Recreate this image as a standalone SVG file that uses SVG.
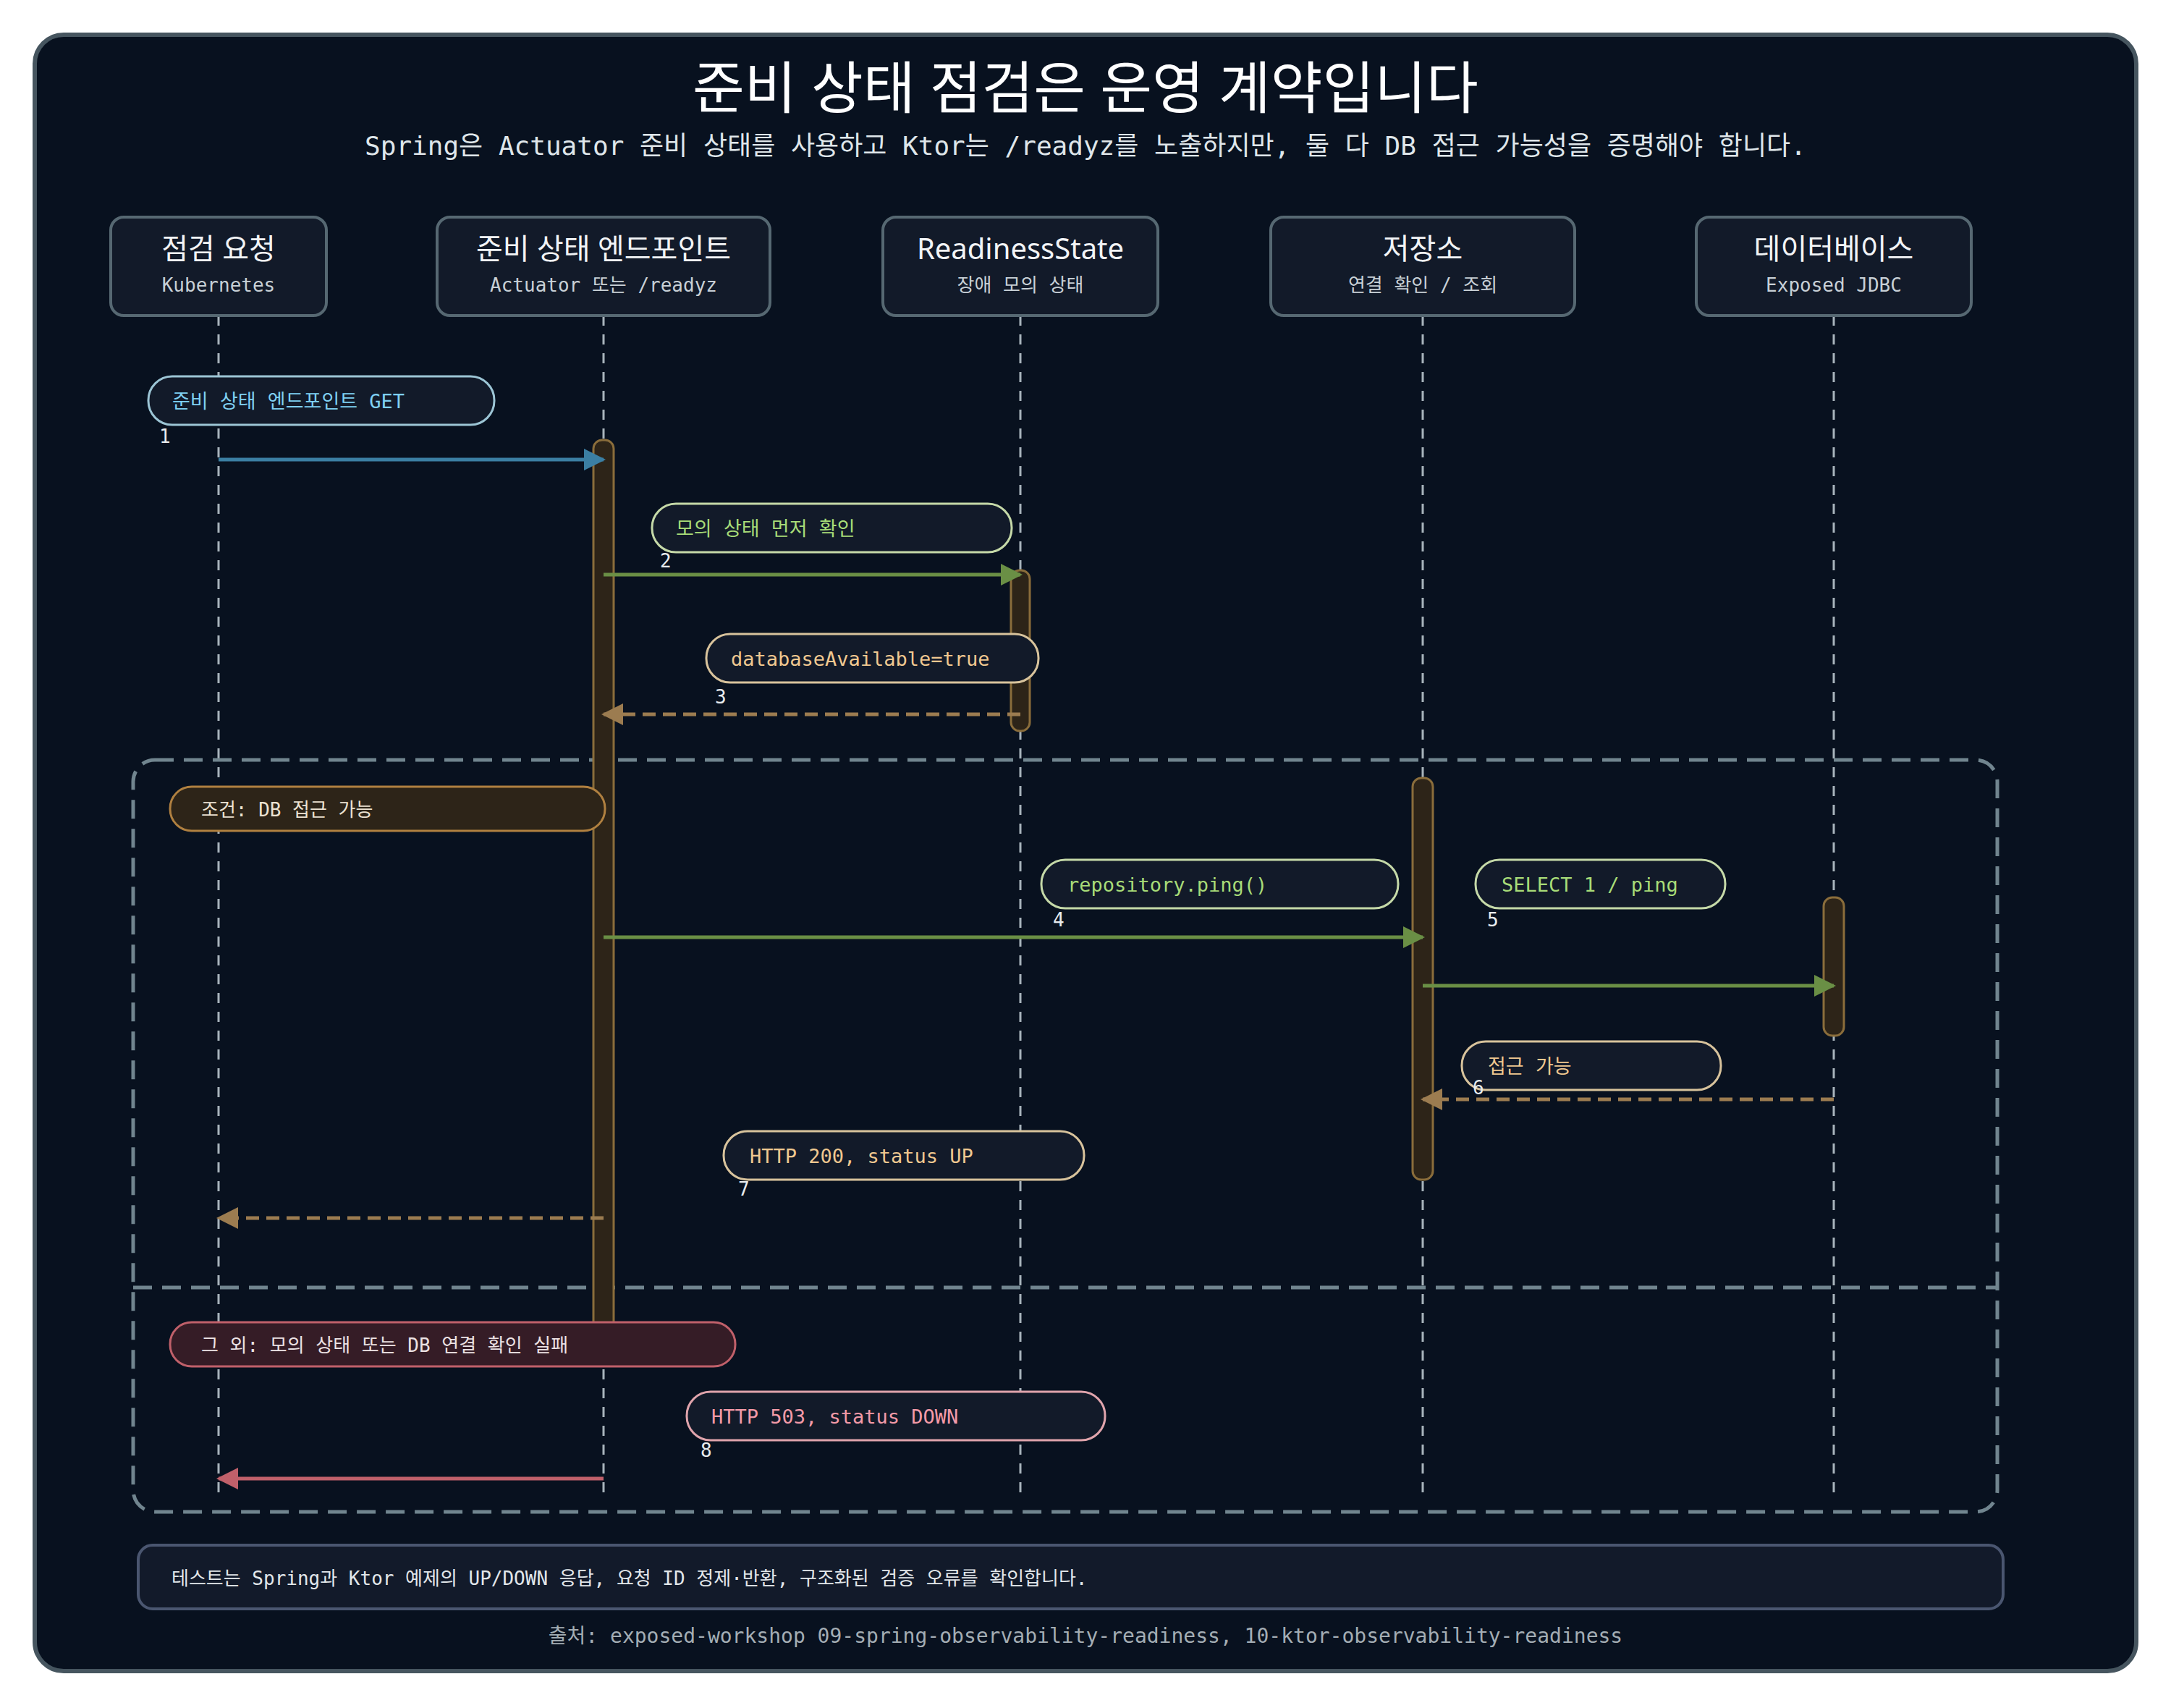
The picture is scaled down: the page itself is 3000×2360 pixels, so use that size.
<svg xmlns="http://www.w3.org/2000/svg" width="3000" height="2360" viewBox="0 0 3000 2360">
<style>
.mono{font-family:"DejaVu Sans Mono","Liberation Mono","Noto Sans CJK KR",monospace}
.sans{font-family:"Noto Sans","Noto Sans CJK KR",sans-serif}
.node rect{fill:#121a29;stroke:#566872;stroke-width:4}
.nt{fill:#f2f4f6;font-size:40px;text-anchor:middle}
.ns{fill:#c8d0d6;font-size:26px;text-anchor:middle}
.life{stroke:#a8b4bc;stroke-width:3;stroke-dasharray:14 12;fill:none}
.act{fill:#2d2418;stroke:#8a6d3b;stroke-width:3}
.pill{fill:#121a29;stroke-width:3}
.pt{font-size:27px}
.num{fill:#e8ecef;font-size:26px}
.msg{stroke-width:5;fill:none}
.dash{stroke-dasharray:18 10}
</style>
<defs>
<marker id="ab" viewBox="0 0 10 10" refX="9" refY="5" markerWidth="6" markerHeight="6" orient="auto-start-reverse" markerUnits="strokeWidth"><path d="M0,0 L10,5 L0,10 z" fill="#3b7fa3"/></marker>
<marker id="ag" viewBox="0 0 10 10" refX="9" refY="5" markerWidth="6" markerHeight="6" orient="auto-start-reverse" markerUnits="strokeWidth"><path d="M0,0 L10,5 L0,10 z" fill="#6a8f45"/></marker>
<marker id="at" viewBox="0 0 10 10" refX="9" refY="5" markerWidth="6" markerHeight="6" orient="auto-start-reverse" markerUnits="strokeWidth"><path d="M0,0 L10,5 L0,10 z" fill="#9c7c50"/></marker>
<marker id="ar" viewBox="0 0 10 10" refX="9" refY="5" markerWidth="6" markerHeight="6" orient="auto-start-reverse" markerUnits="strokeWidth"><path d="M0,0 L10,5 L0,10 z" fill="#c0606a"/></marker>
</defs>
<rect x="0" y="0" width="3000" height="2360" fill="#ffffff"/>
<rect x="48" y="48" width="2904" height="2261" rx="40" fill="#08111f" stroke="#46555f" stroke-width="6"/>
<text x="1500" y="150" class="sans" font-size="78" fill="#ffffff" text-anchor="middle">준비 상태 점검은 운영 계약입니다</text>
<text x="1500" y="214" class="mono" font-size="36" fill="#dfe6ea" text-anchor="middle">Spring은 Actuator 준비 상태를 사용하고 Ktor는 /readyz를 노출하지만, 둘 다 DB 접근 가능성을 증명해야 합니다.</text>

<g id="lifelines">
<line class="life" x1="302" y1="436" x2="302" y2="2070"/>
<line class="life" x1="834" y1="436" x2="834" y2="2070"/>
<line class="life" x1="1410" y1="436" x2="1410" y2="2070"/>
<line class="life" x1="1966" y1="436" x2="1966" y2="2070"/>
<line class="life" x1="2534" y1="436" x2="2534" y2="2070"/>
</g>

<g id="alt-frame" fill="none" stroke="#71858f" stroke-width="5" stroke-dasharray="26 14">
<rect x="184" y="1050" width="2576" height="1039" rx="30"/>
<line x1="184" y1="1779" x2="2760" y2="1779"/>
</g>

<g id="activations">
<rect class="act" x="820" y="608" width="28" height="1232" rx="12"/>
<rect class="act" x="1397" y="788" width="26" height="222" rx="12"/>
<rect class="act" x="1952" y="1075" width="28" height="555" rx="12"/>
<rect class="act" x="2520" y="1240" width="28" height="191" rx="12"/>
</g>

<g id="n1" class="node"><rect x="153" y="300" width="298" height="136" rx="18"/><text x="302" y="358" class="sans nt">점검 요청</text><text x="302" y="403" class="mono ns">Kubernetes</text></g>
<g id="n2" class="node"><rect x="604" y="300" width="460" height="136" rx="18"/><text x="834" y="358" class="sans nt">준비 상태 엔드포인트</text><text x="834" y="403" class="mono ns">Actuator 또는 /readyz</text></g>
<g id="n3" class="node"><rect x="1220" y="300" width="380" height="136" rx="18"/><text x="1410" y="358" class="sans nt">ReadinessState</text><text x="1410" y="403" class="mono ns">장애 모의 상태</text></g>
<g id="n4" class="node"><rect x="1756" y="300" width="420" height="136" rx="18"/><text x="1966" y="358" class="sans nt">저장소</text><text x="1966" y="403" class="mono ns">연결 확인 / 조회</text></g>
<g id="n5" class="node"><rect x="2344" y="300" width="380" height="136" rx="18"/><text x="2534" y="358" class="sans nt">데이터베이스</text><text x="2534" y="403" class="mono ns">Exposed JDBC</text></g>

<g id="connectors">
<line class="msg" stroke="#3b7fa3" x1="302" y1="635" x2="834" y2="635" marker-end="url(#ab)"/>
<line class="msg" stroke="#6a8f45" x1="834" y1="794" x2="1410" y2="794" marker-end="url(#ag)"/>
<line class="msg dash" stroke="#9c7c50" x1="1410" y1="987" x2="834" y2="987" marker-end="url(#at)"/>
<line class="msg" stroke="#6a8f45" x1="834" y1="1295" x2="1966" y2="1295" marker-end="url(#ag)"/>
<line class="msg" stroke="#6a8f45" x1="1966" y1="1362" x2="2534" y2="1362" marker-end="url(#ag)"/>
<line class="msg dash" stroke="#9c7c50" x1="2534" y1="1519" x2="1966" y2="1519" marker-end="url(#at)"/>
<line class="msg dash" stroke="#9c7c50" x1="834" y1="1683" x2="302" y2="1683" marker-end="url(#at)"/>
<line class="msg" stroke="#c0606a" x1="834" y1="2043" x2="302" y2="2043" marker-end="url(#ar)"/>
</g>

<g id="labels">
<rect class="pill" x="205" y="520" width="478" height="67" rx="33" stroke="#9cc5d5"/><text x="238" y="564" class="mono pt" fill="#7fd0f2">준비 상태 엔드포인트 GET</text><text x="220" y="612" class="mono num">1</text>
<rect class="pill" x="901" y="696" width="497" height="67" rx="33" stroke="#c5d9a8"/><text x="934" y="740" class="mono pt" fill="#a8dc78">모의 상태 먼저 확인</text><text x="912" y="784" class="mono num">2</text>
<rect class="pill" x="976" y="876" width="459" height="67" rx="33" stroke="#d8c39c"/><text x="1010" y="920" class="mono pt" fill="#f0c890">databaseAvailable=true</text><text x="988" y="972" class="mono num">3</text>
<rect x="235" y="1087" width="601" height="61" rx="30" fill="#2d2418" stroke="#b08040" stroke-width="3"/><text x="278" y="1128" class="mono" font-size="26" fill="#ece2d2">조건: DB 접근 가능</text>
<rect class="pill" x="1439" y="1188" width="493" height="67" rx="33" stroke="#c5d9a8"/><text x="1475" y="1232" class="mono pt" fill="#a8dc78">repository.ping()</text><text x="1455" y="1280" class="mono num">4</text>
<rect class="pill" x="2039" y="1188" width="345" height="67" rx="33" stroke="#c5d9a8"/><text x="2075" y="1232" class="mono pt" fill="#a8dc78">SELECT 1 / ping</text><text x="2055" y="1280" class="mono num">5</text>
<rect class="pill" x="2020" y="1439" width="358" height="67" rx="33" stroke="#d8c39c"/><text x="2056" y="1483" class="mono pt" fill="#f0c890">접근 가능</text><text x="2035" y="1512" class="mono num">6</text>
<rect class="pill" x="1000" y="1563" width="498" height="67" rx="33" stroke="#d8c39c"/><text x="1036" y="1607" class="mono pt" fill="#f0c890">HTTP 200, status UP</text><text x="1020" y="1652" class="mono num">7</text>
<rect x="235" y="1827" width="781" height="61" rx="30" fill="#351c26" stroke="#c0606a" stroke-width="3"/><text x="278" y="1868" class="mono" font-size="26" fill="#ece2e4">그 외: 모의 상태 또는 DB 연결 확인 실패</text>
<rect class="pill" x="949" y="1923" width="578" height="67" rx="33" stroke="#e0a4ac"/><text x="983" y="1967" class="mono pt" fill="#f49aa8">HTTP 503, status DOWN</text><text x="968" y="2013" class="mono num">8</text>
</g>

<g id="footer">
<rect x="191" y="2135" width="2577" height="88" rx="20" fill="#121a2a" stroke="#4a5670" stroke-width="4"/>
<text x="237" y="2190" class="mono" font-size="26" fill="#e2e7ea">테스트는 Spring과 Ktor 예제의 UP/DOWN 응답, 요청 ID 정제·반환, 구조화된 검증 오류를 확인합니다.</text>
<text x="1500" y="2270" class="mono" font-size="28" fill="#a3adb4" text-anchor="middle">출처: exposed-workshop 09-spring-observability-readiness, 10-ktor-observability-readiness</text>
</g>
</svg>
